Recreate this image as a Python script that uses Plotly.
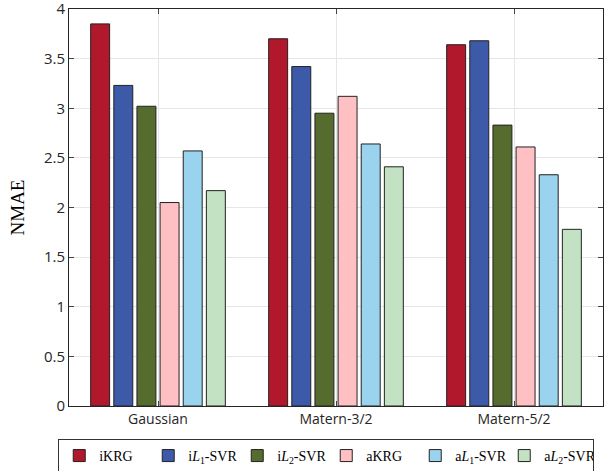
import plotly.graph_objects as go

# data
kernels = ['Gaussian', 'Matern-3/2', 'Matern-5/2']
series_names = ['iKRG', 'i<i>L</i><sub>1</sub>-SVR', 'i<i>L</i><sub>2</sub>-SVR',
                'aKRG', 'a<i>L</i><sub>1</sub>-SVR', 'a<i>L</i><sub>2</sub>-SVR']
ikrg = [3.85, 3.70, 3.64]
il1_svr = [3.23, 3.42, 3.68]
il2_svr = [3.02, 2.95, 2.83]
akrg = [2.05, 3.12, 2.61]
al1_svr = [2.57, 2.64, 2.33]
al2_svr = [2.17, 2.41, 1.78]
colors = ['#B2182B', '#3C5AA8', '#566B2E', '#FFC0C4', '#9AD3EE', '#C3E2C3']

fig = go.Figure()
for name, vals, c in zip(series_names, [ikrg, il1_svr, il2_svr, akrg, al1_svr, al2_svr], colors):
    fig.add_trace(go.Bar(x=kernels, y=vals, name=name, marker_color=c,
                         marker_line=dict(color='#222222', width=1)))

fig.update_layout(barmode='group', bargap=0.22, bargroupgap=0.18,
                  width=613, height=471,
                  margin=dict(l=69, r=10, t=9, b=65),
                  plot_bgcolor='white', paper_bgcolor='white',
                  font=dict(family='Open Sans', size=14, color='#262626'),
                  legend=dict(orientation='h', xref='container', x=0.095, xanchor='left',
                              yref='container', y=0.068, yanchor='top',
                              font=dict(family='Liberation Serif', size=14, color='black'),
                              bordercolor='#333333', borderwidth=1, itemwidth=30,
                              entrywidth=44, entrywidthmode='pixels',
                              tracegroupgap=0, traceorder='normal'))
fig.update_xaxes(showline=True, linecolor='#262626', linewidth=1, mirror='allticks',
                 ticks='inside', ticklen=5, showgrid=True, gridcolor='#E6E6E6',
                 tickfont=dict(size=14))
fig.update_yaxes(range=[0, 4], tickvals=[0, 0.5, 1, 1.5, 2, 2.5, 3, 3.5, 4],
                 ticktext=['0', '0.5', '1', '1.5', '2', '2.5', '3', '3.5', '4'],
                 ticklabeloverflow='allow',
                 showline=True, linecolor='#262626', linewidth=1,
                 mirror='allticks', ticks='inside', ticklen=5, showgrid=True, gridcolor='#E6E6E6',
                 zeroline=False, tickfont=dict(size=15), automargin=False,
                 title=dict(text='NMAE', font=dict(family='Liberation Serif', size=19, color='black'),
                            standoff=14))
# the page body has an 8px default margin; remove it so the figure fills the window
fig.write_html('out.html', config={'displayModeBar': False},
               post_script="document.body.style.margin='0';")
